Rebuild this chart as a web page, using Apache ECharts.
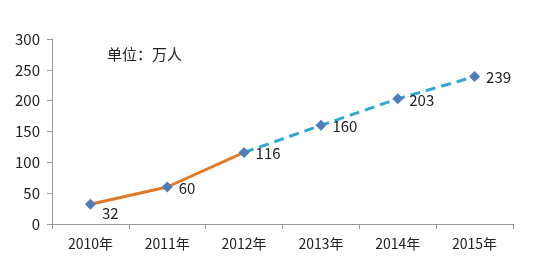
<!DOCTYPE html>
<html><head><meta charset="utf-8">
<script src="https://cdn.jsdelivr.net/npm/echarts@6/dist/echarts.min.js"></script>
<style>html,body{margin:0;padding:0;background:#fff}#c{width:549px;height:264px}</style>
</head><body><div id="c"></div>
<script>
const categories = ['2010年','2011年','2012年','2013年','2014年','2015年'];
const actualValues = [32, 60, 116, '-', '-', '-'];
const forecastValues = ['-', '-', 116, 160, 203, 239];
const allValues = [32, 60, 116, 160, 203, 239];
const unitText = '单位：万人';

const chart = echarts.init(document.getElementById('c'), null, {renderer:'canvas'});
const font = '"Microsoft YaHei","Noto Sans CJK SC",sans-serif';
chart.setOption({
  animation:false,
  grid:{left:52,right:36,top:39,bottom:40},
  graphic:[{type:'text',left:107,top:47,style:{text:unitText,font:'15px '+font,fill:'#222'}}],
  xAxis:{type:'category',data:categories,boundaryGap:true,
    axisLine:{lineStyle:{color:'#999'}},
    axisTick:{show:true,length:5,lineStyle:{color:'#999'}},
    axisLabel:{color:'#222',fontSize:14,fontFamily:font,margin:13}},
  yAxis:{type:'value',min:0,max:300,interval:50,
    axisLine:{show:true,lineStyle:{color:'#999'}},
    axisTick:{show:true,length:5,lineStyle:{color:'#999'}},
    splitLine:{show:false},
    axisLabel:{color:'#222',fontSize:15,fontFamily:font,margin:12}},
  series:[
    {type:'line',data:actualValues,symbol:'none',lineStyle:{color:'#E07A2A',width:3},z:2},
    {type:'line',data:forecastValues,symbol:'none',lineStyle:{color:'#2CA9D2',width:3,type:[10,6]},z:2},
    {type:'line',data:allValues,lineStyle:{width:0,opacity:0},symbol:'diamond',symbolSize:11,
      itemStyle:{color:'#4F7DBA'},z:3,
      label:{show:true,position:'right',distance:6,color:'#222',fontSize:15,fontFamily:font,
        formatter:p=>p.value},
      labelLayout:function(p){ if(p.dataIndex===0) return {dy:9}; return {dy:1}; }}
  ]
});
</script></body></html>
